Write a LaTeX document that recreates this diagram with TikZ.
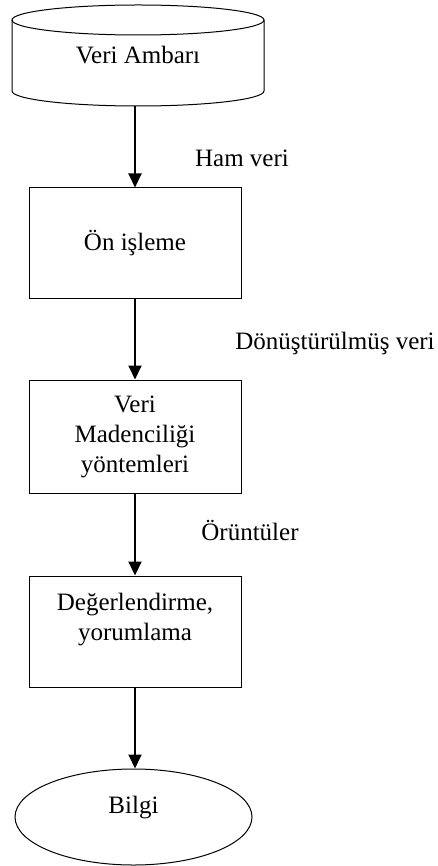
\documentclass[tikz,border=0pt]{standalone}
\usepackage{fontspec}
\setmainfont{Liberation Serif}
\usetikzlibrary{arrows.meta,shapes.geometric}

\begin{document}
\begin{tikzpicture}[x=1pt,y=1pt,
	etiket/.style={font=\fontsize{25}{30}\selectfont},
	kutu/.style={etiket,draw,line width=1pt,minimum width=212pt,inner sep=0pt,align=center},
	ok/.style={line width=2pt,-{Triangle[width=13pt,length=14pt]}}]
	\useasboundingbox (0,0) rectangle (438,-866);

	% veri ambari
	\node[etiket,minimum width=253pt,minimum height=101pt,inner sep=0pt] (ambar) at (138,-55.5) {Veri Ambarı};
	\draw[line width=1pt] (138,-20) ellipse [x radius=126, y radius=15];
	\draw[line width=1pt] (12,-20) -- (12,-91) arc[start angle=180, end angle=360, x radius=126, y radius=15] -- (264,-20);

	% adimlar
	\node[kutu,minimum height=110pt] (onisleme) at (135,-243) {Ön işleme};
	\node[kutu,minimum height=113pt] (madencilik) at (135,-436.5) {Veri\\Madenciliği\\yöntemleri};
	\node[kutu,minimum height=111pt] (deger) at (135,-631.5) {Değerlendirme,\\yorumlama\\\mbox{}};
	\node[etiket,draw,ellipse,line width=1pt,inner sep=0pt,minimum width=237pt,minimum height=96pt,text height=17pt,text depth=25pt] (bilgi) at (133.5,-817) {Bilgi};

	% oklar
	\draw[ok] (onisleme |- ambar.south) -- (onisleme.north);
	\draw[ok] (onisleme.south) -- (madencilik.north);
	\draw[ok] (madencilik.south) -- (deger.north);
	\draw[ok] (deger.south) -- (deger.south |- bilgi.north);

	% ok etiketleri
	\node[etiket] (hamveri) at (242,-158) {Ham veri};
	\node[etiket] (donusmus) at (335,-343) {Dönüştürülmüş veri};
	\node[etiket] (oruntu) at (250,-530) {Örüntüler};
\end{tikzpicture}
\end{document}
